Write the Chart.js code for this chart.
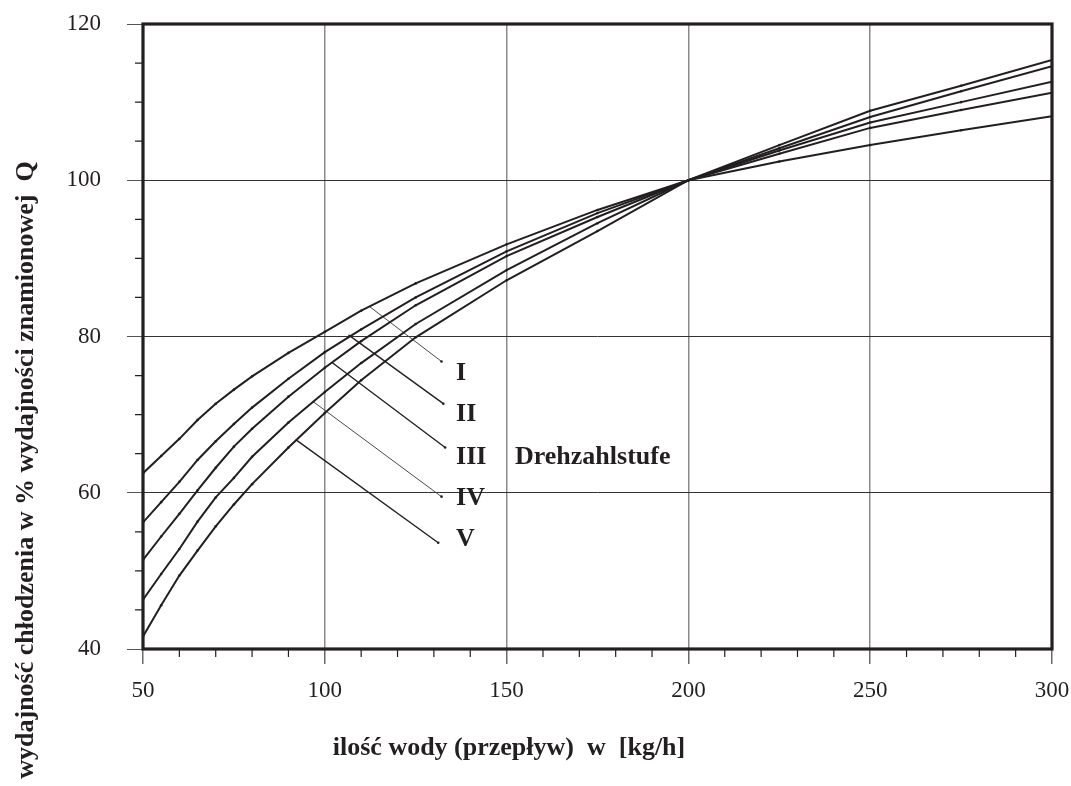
<!DOCTYPE html>
<html>
<head>
<meta charset="utf-8">
<script src="https://cdn.jsdelivr.net/npm/chart.js@4/dist/chart.umd.min.js"></script>
<style>
  html, body { margin: 0; padding: 0; background: #fff; }
  canvas { display: block; }
</style>
</head>
<body>
<canvas id="chart" width="1071" height="786"></canvas>
<script>
// Flow rate (kg/h) and cooling capacity in % of nominal, per fan speed stage
const flowValues = [50, 55, 60, 65, 70, 75, 80, 90, 100, 110, 125, 150, 175, 200, 225, 250, 275, 300];
const stage1 = [62.5, 64.7, 66.9, 69.3, 71.4, 73.2, 74.9, 77.9, 80.6, 83.3, 86.8, 91.8, 96.2, 100, 102.4, 104.5, 106.4, 108.2];
const stage2 = [56.2, 58.8, 61.4, 64.2, 66.6, 68.8, 70.9, 74.6, 78.0, 80.9, 85.0, 90.9, 95.8, 100, 103.4, 106.7, 109.0, 111.2];
const stage3 = [51.4, 54.4, 57.3, 60.3, 63.2, 65.9, 68.2, 72.3, 76.0, 79.4, 84.0, 90.3, 95.3, 100, 103.8, 107.4, 110.0, 112.6];
const stage4 = [46.3, 49.6, 52.8, 56.3, 59.4, 61.9, 64.6, 69.0, 72.9, 76.6, 81.6, 88.5, 94.5, 100, 104.1, 108.1, 111.4, 114.6];
const stage5 = [41.6, 45.6, 49.4, 52.6, 55.7, 58.5, 61.1, 65.8, 70.2, 74.4, 79.9, 87.2, 93.5, 100, 104.5, 108.9, 112.1, 115.4];

const stageNames = ['I', 'II', 'III', 'IV', 'V'];
// leader lines: start on curve -> end near label
const leaderStartX = [112.4, 106.5, 101.9, 96.7, 92.0];
const leaderStartY = [83.8, 80.2, 76.7, 71.7, 66.8];
const leaderEndX = [132.1, 132.6, 133.1, 132.1, 131.2];
const leaderEndY = [76.8, 71.4, 65.8, 59.5, 53.6];
const labelX = 136.1;
const labelY = [75.3, 70.0, 64.6, 59.3, 54.0];
const legendTitle = 'Drehzahlstufe';
const legendTitleX = 152.3;

const xMinorTicks = [60, 70, 80, 90, 110, 120, 130, 140, 160, 170, 180, 190, 210, 220, 230, 240, 260, 270, 280, 290];
const yMinorTicks = [45, 50, 55, 65, 70, 75, 85, 90, 95, 105, 110, 115];

const xTitle = 'ilość wody (przepływ)  w  [kg/h]';
const yTitle = 'wydajność chłodzenia w % wydajności znamionowej  Q';

const ink = '#231f20';
const serif = '"Liberation Serif", "Times New Roman", serif';

function toPoints(xs, ys) {
    return xs.map((x, i) => ({ x: x, y: ys[i] }));
}

function curve(values) {
    return {
        data: toPoints(flowValues, values),
        borderColor: ink,
        borderWidth: 2,
        tension: 0,
        pointRadius: 1.3,
        pointBackgroundColor: ink,
        pointBorderWidth: 0
    };
}

function leader(i) {
    const thin = (i === 0 || i === 3);
    return {
        data: [{ x: leaderStartX[i], y: leaderStartY[i] }, { x: leaderEndX[i], y: leaderEndY[i] }],
        borderColor: thin ? '#4a4a4a' : ink,
        borderWidth: thin ? 1 : 1.4,
        pointRadius: [0, 1.3],
        pointBackgroundColor: ink,
        pointBorderWidth: 0
    };
}

// frame, minor ticks, titles and stage labels
const decorations = {
    id: 'decorations',
    afterDraw(chart) {
        const ctx = chart.ctx;
        const xs = chart.scales.x;
        const ys = chart.scales.y;
        const a = chart.chartArea;
        ctx.save();

        ctx.strokeStyle = ink;
        ctx.lineWidth = 1.2;
        ctx.beginPath();
        xMinorTicks.forEach(v => {
            const px = xs.getPixelForValue(v);
            ctx.moveTo(px, a.bottom);
            ctx.lineTo(px, a.bottom + 8);
        });
        yMinorTicks.forEach(v => {
            const py = ys.getPixelForValue(v);
            ctx.moveTo(a.left, py);
            ctx.lineTo(a.left - 8, py);
        });
        ctx.stroke();

        ctx.lineWidth = 3.2;
        ctx.strokeRect(a.left, a.top, a.right - a.left, a.bottom - a.top);

        ctx.fillStyle = ink;
        ctx.font = 'bold 26px ' + serif;
        ctx.textBaseline = 'middle';
        ctx.textAlign = 'left';
        stageNames.forEach((name, i) => {
            ctx.fillText(name, xs.getPixelForValue(labelX), ys.getPixelForValue(labelY[i]));
        });
        ctx.fillText(legendTitle, xs.getPixelForValue(legendTitleX), ys.getPixelForValue(labelY[2]));

        ctx.textBaseline = 'alphabetic';
        ctx.textAlign = 'center';
        ctx.fillText(xTitle, 509, 755);

        ctx.translate(33, 470);
        ctx.rotate(-Math.PI / 2);
        ctx.fillText(yTitle, 0, 0);
        ctx.restore();
    }
};

new Chart(document.getElementById('chart'), {
    type: 'line',
    data: {
        datasets: [
            curve(stage1), curve(stage2), curve(stage3), curve(stage4), curve(stage5),
            leader(0), leader(1), leader(2), leader(3), leader(4)
        ]
    },
    options: {
        responsive: false,
        animation: false,
        layout: { padding: { top: 24, right: 19, left: 0, bottom: 0 } },
        plugins: { legend: { display: false }, tooltip: { enabled: false } },
        scales: {
            x: {
                type: 'linear',
                min: 50,
                max: 300,
                afterFit: s => { s.height = 137; s.paddingLeft = 0; s.paddingRight = 0; },
                border: { display: false },
                grid: { color: '#8a8a8a', lineWidth: 1.5, tickLength: 15, tickColor: '#6a6a6a' },
                ticks: { stepSize: 50, padding: 13, color: ink, font: { family: serif, size: 23 } }
            },
            y: {
                min: 40,
                max: 120,
                afterFit: s => { s.width = 143; s.paddingTop = 0; s.paddingBottom = 0; },
                border: { display: false },
                grid: { color: '#333', lineWidth: 1, tickLength: 16, tickColor: '#555' },
                ticks: { stepSize: 20, padding: 26, color: ink, font: { family: serif, size: 23 } }
            }
        }
    },
    plugins: [decorations]
});
</script>
</body>
</html>
